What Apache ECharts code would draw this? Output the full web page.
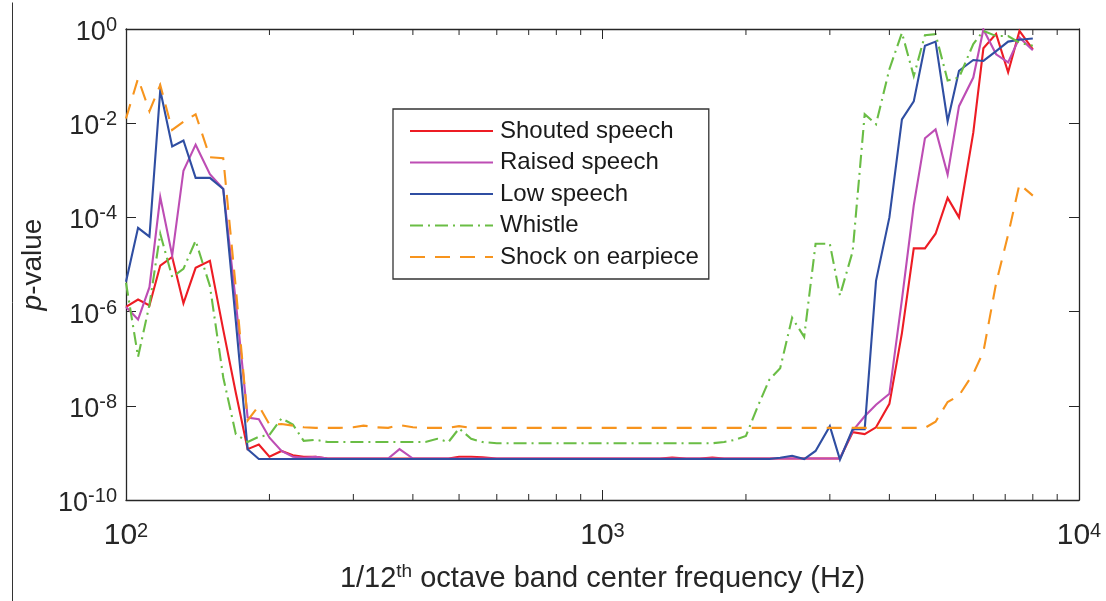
<!DOCTYPE html>
<html>
<head>
<meta charset="utf-8">
<script src="https://cdn.jsdelivr.net/npm/echarts@6/dist/echarts.min.js"></script>
<style>html,body{margin:0;padding:0;background:#fff}#c{width:1106px;height:601px}</style>
</head>
<body>
<div id="c"></div>
<script>
// 1/12 octave band centre frequencies (Hz)
const freqs = [100,106,112,118,125,132,140,150,160,170,
  180,190,200,212,224,236,250,265,280,300,
  315,335,355,375,400,425,450,475,500,530,
  560,600,630,670,710,750,800,850,900,950,
  1000,1060,1120,1180,1250,1320,1400,1500,1600,1700,
  1800,1900,2000,2120,2240,2360,2500,2650,2800,3000,
  3150,3350,3550,3750,4000,4250,4500,4750,5000,5300,
  5600,6000,6300,6700,7100,7500,8000];

const shouted = [1.26e-6,1.8e-6,1.35e-6,9.5e-6,1.45e-5,1.5e-6,8.5e-6,1.2e-5,4.1e-7,1.9e-8,
  1.2e-9,1.5e-9,8.3e-10,1.1e-9,8.9e-10,8.3e-10,8.3e-10,7.6e-10,7.6e-10,7.6e-10,
  7.6e-10,7.6e-10,7.6e-10,7.6e-10,7.6e-10,7.6e-10,7.6e-10,7.6e-10,8.3e-10,8.3e-10,
  8.1e-10,7.6e-10,7.6e-10,7.6e-10,7.6e-10,7.6e-10,7.6e-10,7.6e-10,7.6e-10,7.6e-10,
  7.6e-10,7.6e-10,7.6e-10,7.6e-10,7.6e-10,7.6e-10,8.0e-10,7.6e-10,7.6e-10,8.0e-10,
  7.6e-10,7.6e-10,7.6e-10,7.6e-10,7.6e-10,7.6e-10,7.6e-10,7.6e-10,7.6e-10,7.6e-10,
  7.6e-10,2.75e-9,2.5e-9,3.5e-9,1.1e-8,3.5e-7,2.2e-5,2.2e-5,4.5e-5,2.6e-4,
  1.0e-4,6.3e-3,0.39,0.79,0.12,0.91,0.37];

const raised = [1.26e-6,6.8e-7,3.3e-6,2.7e-4,1.55e-5,9.8e-4,3.5e-3,8.3e-4,4.0e-4,1.6e-6,
  5.6e-9,5.2e-9,2.1e-9,1.1e-9,8.3e-10,7.9e-10,8.3e-10,7.6e-10,7.6e-10,7.6e-10,
  7.6e-10,7.6e-10,7.6e-10,1.2e-9,7.6e-10,7.6e-10,7.6e-10,7.6e-10,7.6e-10,7.6e-10,
  7.6e-10,7.6e-10,7.6e-10,7.6e-10,7.6e-10,7.6e-10,7.6e-10,7.6e-10,7.6e-10,7.6e-10,
  7.6e-10,7.6e-10,7.6e-10,7.6e-10,7.6e-10,7.6e-10,7.6e-10,7.6e-10,7.6e-10,7.6e-10,
  7.6e-10,7.6e-10,7.6e-10,7.6e-10,7.6e-10,7.6e-10,7.6e-10,7.6e-10,7.6e-10,7.6e-10,
  7.6e-10,2.95e-9,6.0e-9,1.05e-8,1.8e-8,1.8e-6,1.8e-4,4.8e-3,7.4e-3,8.1e-4,
  2.3e-2,9.3e-2,0.98,0.29,0.195,0.66,0.355];

const low = [4.3e-6,6.0e-5,3.9e-5,5.0e-2,3.2e-3,4.3e-3,6.9e-4,6.9e-4,4.0e-4,6.3e-7,
  1.2e-9,7.4e-10,7.4e-10,7.4e-10,7.4e-10,7.4e-10,7.4e-10,7.4e-10,7.4e-10,7.4e-10,
  7.4e-10,7.4e-10,7.4e-10,7.4e-10,7.4e-10,7.4e-10,7.4e-10,7.4e-10,7.4e-10,7.4e-10,
  7.4e-10,7.4e-10,7.4e-10,7.4e-10,7.4e-10,7.4e-10,7.4e-10,7.4e-10,7.4e-10,7.4e-10,
  7.4e-10,7.4e-10,7.4e-10,7.4e-10,7.4e-10,7.4e-10,7.4e-10,7.4e-10,7.4e-10,7.4e-10,
  7.4e-10,7.4e-10,7.4e-10,7.4e-10,7.4e-10,7.9e-10,8.7e-10,7.4e-10,1.1e-9,3.7e-9,
  7.2e-10,3.2e-9,3.2e-9,4.5e-6,1.0e-4,1.2e-2,2.9e-2,0.44,0.54,1.1e-2,
  0.13,0.22,0.21,0.34,0.54,0.59,0.63];

const whistle = [4.1e-6,1.1e-7,1.4e-6,4.5e-5,5.4e-6,8.1e-6,3.2e-5,3.5e-6,4.0e-8,2.5e-9,
  1.7e-9,2.2e-9,2.4e-9,5.4e-9,4.0e-9,1.8e-9,1.9e-9,1.7e-9,1.7e-9,1.7e-9,
  1.7e-9,1.7e-9,1.7e-9,1.7e-9,1.7e-9,1.7e-9,2.0e-9,1.7e-9,3.3e-9,2.0e-9,
  1.7e-9,1.6e-9,1.6e-9,1.6e-9,1.6e-9,1.6e-9,1.6e-9,1.6e-9,1.6e-9,1.6e-9,
  1.6e-9,1.6e-9,1.6e-9,1.6e-9,1.6e-9,1.6e-9,1.6e-9,1.6e-9,1.6e-9,1.6e-9,
  1.7e-9,1.9e-9,2.3e-9,1.0e-8,3.6e-8,6.3e-8,7.4e-7,2.9e-7,2.75e-5,2.75e-5,
  2.2e-6,1.9e-5,1.55e-2,9.5e-3,0.14,0.83,0.10,0.74,0.78,8.1e-2,
  9.3e-2,0.48,0.91,0.71,0.71,0.51,0.44];

const shock = [1.26e-2,8.9e-2,1.8e-2,6.5e-2,7.2e-3,1.07e-2,1.55e-2,1.9e-3,1.8e-3,3.2e-6,
  4.9e-9,1.0e-8,4.0e-9,4.1e-9,3.8e-9,3.5e-9,3.4e-9,3.4e-9,3.4e-9,3.5e-9,
  3.8e-9,3.5e-9,3.4e-9,3.9e-9,3.5e-9,3.4e-9,3.4e-9,3.4e-9,3.7e-9,3.4e-9,
  3.4e-9,3.4e-9,3.4e-9,3.4e-9,3.4e-9,3.4e-9,3.4e-9,3.4e-9,3.4e-9,3.4e-9,
  3.4e-9,3.4e-9,3.4e-9,3.4e-9,3.4e-9,3.4e-9,3.4e-9,3.4e-9,3.4e-9,3.4e-9,
  3.4e-9,3.4e-9,3.4e-9,3.4e-9,3.4e-9,3.4e-9,3.4e-9,3.4e-9,3.4e-9,3.4e-9,
  3.4e-9,3.4e-9,3.4e-9,3.4e-9,3.4e-9,3.4e-9,3.4e-9,3.4e-9,4.6e-9,1.2e-8,
  1.66e-8,4.8e-8,1.4e-7,4.0e-6,4.3e-5,5.1e-4,2.9e-4];

const seriesNames = ['Shouted speech','Raised speech','Low speech','Whistle','Shock on earpiece'];
const seriesValues = [shouted, raised, low, whistle, shock];
const seriesColors = ['#ED1C24','#BD4DB4','#2F4EA2','#6ABD45','#F7941D'];
const seriesDash = ['solid','solid','solid',[13,5,2,5],[15,10]];

// minor tick positions on the log frequency axis
const minorTickFreqs = [200,300,400,500,600,700,800,900,2000,3000,4000,5000,6000,7000,8000,9000];

const FONT = '"Liberation Sans", Arial, Helvetica, sans-serif';
const INK = '#262626';

const chart = echarts.init(document.getElementById('c'), null, {renderer: 'canvas'});

function expOf(v){ return Math.round(Math.log10(v)); }

const lineSeries = seriesNames.map((name, i) => ({
  name: name,
  type: 'line',
  xAxisIndex: 0, yAxisIndex: 0,
  data: freqs.map((f, k) => [f, seriesValues[i][k]]),
  symbol: 'none',
  showSymbol: false,
  smooth: false,
  z: 3 + i,
  lineStyle: {color: seriesColors[i], width: 2.1, type: seriesDash[i], cap: 'butt', join: 'miter'},
  itemStyle: {color: seriesColors[i]},
  emphasis: {disabled: true}
}));

const minorTicks = {
  type: 'custom',
  name: 'minorTicks',
  xAxisIndex: 0, yAxisIndex: 0,
  silent: true,
  clip: false,
  z: 10,
  data: minorTickFreqs.map(f => [f]),
  encode: {x: 0},
  renderItem: function (params, api) {
    const f = api.value(0);
    const pb = api.coord([f, 1e-10]);
    const pt = api.coord([f, 1]);
    return {type: 'group', children: [
      {type: 'line', shape: {x1: pb[0], y1: pb[1], x2: pb[0], y2: pb[1] - 6}, style: {stroke: INK, lineWidth: 1}},
      {type: 'line', shape: {x1: pt[0], y1: pt[1], x2: pt[0], y2: pt[1] + 6}, style: {stroke: INK, lineWidth: 1}}
    ]};
  }
};

const xRich = {
  b: {fontSize: 30, lineHeight: 30, fontFamily: FONT, color: INK},
  s: {fontSize: 20, lineHeight: 20, fontFamily: FONT, color: INK, verticalAlign: 'top'}
};
const yRich = {
  b: {fontSize: 27, lineHeight: 27, fontFamily: FONT, color: INK, padding: [7, 0, 0, 0]},
  s: {fontSize: 20, lineHeight: 20, fontFamily: FONT, color: INK, verticalAlign: 'top'}
};

const option = {
  animation: false,
  backgroundColor: '#ffffff',
  textStyle: {fontFamily: FONT},
  grid: {left: 126, right: 27, top: 29, bottom: 100, containLabel: false},
  legend: {
    data: seriesNames,
    orient: 'vertical',
    left: 393, top: 109,
    padding: [10, 10, 10, 16],
    itemGap: 7.5,
    itemWidth: 83,
    itemHeight: 24,
    borderColor: '#333333',
    borderWidth: 1.3,
    backgroundColor: '#ffffff',
    selectedMode: false,
    itemStyle: {opacity: 0},
    textStyle: {fontSize: 24, fontFamily: FONT, color: '#1a1a1a', padding: [0, 0, 0, 2]}
  },
  xAxis: [{
    type: 'log', logBase: 10, min: 100, max: 10000,
    position: 'bottom',
    axisLine: {show: true, onZero: false, lineStyle: {color: INK, width: 1.3}},
    axisTick: {show: true, inside: true, length: 10, lineStyle: {color: INK, width: 1}},
    splitLine: {show: false},
    axisLabel: {
      margin: 21, color: INK, rich: xRich,
      formatter: v => '{b|10}{s|' + expOf(v) + '}'
    },
    name: '1/12{s|th} octave band center frequency (Hz)',
    nameLocation: 'middle',
    nameGap: 62,
    nameTextStyle: {
      fontSize: 29, fontFamily: FONT, color: INK, lineHeight: 34,
      rich: {s: {fontSize: 19, lineHeight: 19, fontFamily: FONT, color: INK, verticalAlign: 'top'}}
    }
  }, {
    type: 'log', logBase: 10, min: 100, max: 10000,
    position: 'top',
    axisLine: {show: true, onZero: false, lineStyle: {color: INK, width: 1.3}},
    axisTick: {show: true, inside: true, length: 10, lineStyle: {color: INK, width: 1}},
    axisLabel: {show: false},
    splitLine: {show: false}
  }],
  yAxis: [{
    type: 'log', logBase: 10, min: 1e-10, max: 1, interval: 2,
    position: 'left',
    axisLine: {show: true, onZero: false, lineStyle: {color: INK, width: 1.3}},
    axisTick: {show: true, inside: true, length: 10, lineStyle: {color: INK, width: 1}},
    splitLine: {show: false},
    axisLabel: {
      margin: 9, color: INK, rich: yRich,
      formatter: v => '{b|10}{s|' + expOf(v) + '}'
    },
    name: '{i|p}-value',
    nameLocation: 'middle',
    nameGap: 72,
    nameTextStyle: {
      fontSize: 28, fontFamily: FONT, color: INK,
      rich: {i: {fontSize: 28, fontFamily: FONT, color: INK, fontStyle: 'italic'}}
    }
  }, {
    type: 'log', logBase: 10, min: 1e-10, max: 1, interval: 2,
    position: 'right',
    axisLine: {show: true, onZero: false, lineStyle: {color: INK, width: 1.3}},
    axisTick: {show: true, inside: true, length: 10, lineStyle: {color: INK, width: 1}},
    axisLabel: {show: false},
    splitLine: {show: false}
  }],
  graphic: [{
    type: 'line', left: 10, top: 0,
    shape: {x1: 0, y1: 0, x2: 0, y2: 601},
    style: {stroke: '#333333', lineWidth: 1}
  }],
  series: lineSeries.concat([minorTicks])
};

chart.setOption(option);
</script>
</body>
</html>
